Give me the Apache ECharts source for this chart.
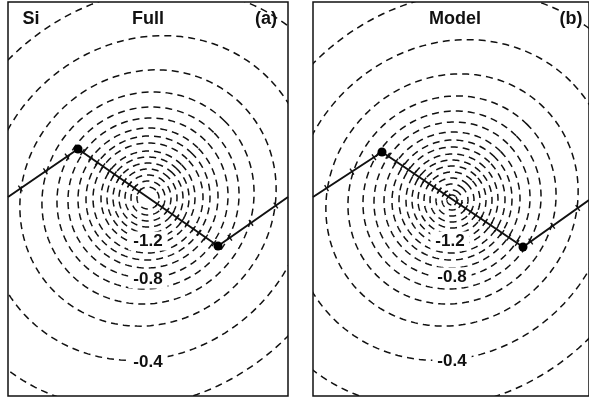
<!DOCTYPE html>
<html><head><meta charset="utf-8">
<script src="https://cdn.jsdelivr.net/npm/echarts@6/dist/echarts.min.js"></script>
<style>html,body{margin:0;padding:0;background:#fff}#c{width:589px;height:400px}</style>
</head><body><div id="c"></div>
<script>
// Contour levels (potential) and their mean radii / elongation
const levels      = [-0.3,-0.4,-0.5,-0.6,-0.7,-0.8,-0.9,-1.0,-1.1,-1.2,-1.3,-1.4,-1.5,-1.6,-1.7,-1.8,-1.9];
const radiusFull  = [209, 162, 128, 106, 91, 80, 70, 62, 55, 47, 41, 35, 29, 23, 17, 11, null];
const radiusModel = [207, 160, 126, 104, 89, 78, 68, 60, 53, 46, 40, 34, 28, 22, 16, 10, 5];
const elongFull   = [1.13,1.10,1.07,1.05,1.04,1.03,1.02,1.02,1.01,1.01,1,1,1,1,1,1,1];
const elongModel  = [1.13,1.10,1.07,1.05,1.04,1.03,1.02,1.02,1.01,1.01,1,1,1,1,1,1,1];
// Labelled contours and label positions
const labelLevels    = [-1.2, -0.8, -0.4];
const labelPosFull   = [[0,-43],[0,-81],[0,-164]];
const labelPosModel  = [[-2,-41],[0,-77],[0,-161]];
// Bond chain and atoms
const bondFull   = [[-140,1],[-70,49],[70,-48],[140,1]];
const atomsFull  = [[-70,49],[70,-48]];
const bondModel  = [[-139,3],[-70,48],[71,-47],[137,0]];
const atomsModel = [[-70,48],[71,-47]];
// Panel texts
const panelTitles = ['Full','Model'];
const panelTags = ['(a)','(b)'];
const elementName = 'Si';

function contourData(radii, elong){
  const d=[];
  for(let i=0;i<levels.length;i++){ if(radii[i]!=null) d.push([radii[i], elong[i], levels[i]]); }
  return d;
}
function tickData(bond, radii){
  const out=[];
  const rs = radii.filter(r=>r!=null);
  for(let s=0;s<bond.length-1;s++){
    const p0=bond[s], p1=bond[s+1];
    const dx=p1[0]-p0[0], dy=p1[1]-p0[1];
    const A=dx*dx+dy*dy, B=2*(p0[0]*dx+p0[1]*dy), C0=p0[0]*p0[0]+p0[1]*p0[1];
    rs.forEach(r=>{
      const C=C0-r*r, disc=B*B-4*A*C;
      if(disc<0) return;
      [(-B-Math.sqrt(disc))/(2*A),(-B+Math.sqrt(disc))/(2*A)].forEach(t=>{
        if(t>0.02&&t<0.98) out.push([p0[0]+t*dx, p0[1]+t*dy, dx, dy]);
      });
    });
  }
  return out;
}
function labelData(pos){ return pos.map((p,i)=>[p[0],p[1],labelLevels[i]]); }

const contourRender = function(params, api){
  const r=api.value(0), e=api.value(1);
  const a=r*Math.sqrt(e), b=r/Math.sqrt(e), th=Math.PI/4;
  const pts=[];
  const n=180;
  for(let i=0;i<=n;i++){
    const t=i/n*2*Math.PI;
    const x=a*Math.cos(t)*Math.cos(th)-b*Math.sin(t)*Math.sin(th);
    const y=a*Math.cos(t)*Math.sin(th)+b*Math.sin(t)*Math.cos(th);
    pts.push(api.coord([x,y]));
  }
  return {type:'polyline', shape:{points:pts}, style:{fill:null, stroke:'#111', lineWidth:1.5, lineDash:[7,5]}};
};
const tickRender = function(params, api){
  const c=api.coord([api.value(0),api.value(1)]);
  const dx=api.value(2), dy=-api.value(3);
  const L=Math.sqrt(dx*dx+dy*dy);
  const nx=-dy/L*3.5, ny=dx/L*3.5;
  return {type:'line', shape:{x1:c[0]-nx,y1:c[1]-ny,x2:c[0]+nx,y2:c[1]+ny}, style:{stroke:'#111', lineWidth:1.4}};
};
const labelRender = function(params, api){
  const c=api.coord([api.value(0),api.value(1)]);
  return {type:'text', x:c[0], y:c[1], style:{text:api.value(2).toFixed(1), font:'bold 17px "Liberation Sans"', fill:'#111', align:'center', verticalAlign:'middle', backgroundColor:'#fff', padding:[1,5]}};
};

function panelSeries(idx, radii, elong, bond, atoms, lpos){
  return [
    {type:'custom', xAxisIndex:idx, yAxisIndex:idx, clip:true, renderItem:contourRender, data:contourData(radii,elong), z:1, silent:true},
    {type:'line', xAxisIndex:idx, yAxisIndex:idx, data:bond, symbol:'none', lineStyle:{color:'#111', width:2}, z:3, silent:true},
    {type:'custom', xAxisIndex:idx, yAxisIndex:idx, clip:true, renderItem:tickRender, data:tickData(bond,radii), z:3, silent:true},
    {type:'scatter', xAxisIndex:idx, yAxisIndex:idx, data:atoms, symbol:'circle', symbolSize:9, itemStyle:{color:'#000', opacity:1}, z:6, silent:true},
    {type:'custom', xAxisIndex:idx, yAxisIndex:idx, renderItem:labelRender, data:labelData(lpos), z:5, silent:true}
  ];
}

const tf='bold 18px "Liberation Sans"';
const chart=echarts.init(document.getElementById('c'),null,{renderer:'canvas'});
chart.setOption({
  animation:false,
  backgroundColor:'#fff',
  grid:[
    {left:8, top:2, width:280, height:394, show:true, borderColor:'#111', borderWidth:1.5},
    {left:313, top:2, width:276, height:394, show:true, borderColor:'#111', borderWidth:1.5}
  ],
  xAxis:[
    {gridIndex:0, type:'value', min:-140, max:140, show:false},
    {gridIndex:1, type:'value', min:-139, max:137, show:false}
  ],
  yAxis:[
    {gridIndex:0, type:'value', min:-198, max:196, show:false},
    {gridIndex:1, type:'value', min:-196, max:198, show:false}
  ],
  graphic:[
    {type:'text', x:31, y:19, style:{text:elementName, font:tf, fill:'#111', align:'center', verticalAlign:'middle'}, z:10},
    {type:'text', x:148, y:19, style:{text:panelTitles[0], font:tf, fill:'#111', align:'center', verticalAlign:'middle'}, z:10},
    {type:'text', x:266, y:19, style:{text:panelTags[0], font:tf, fill:'#111', align:'center', verticalAlign:'middle'}, z:10},
    {type:'text', x:455, y:19, style:{text:panelTitles[1], font:tf, fill:'#111', align:'center', verticalAlign:'middle'}, z:10},
    {type:'text', x:571, y:19, style:{text:panelTags[1], font:tf, fill:'#111', align:'center', verticalAlign:'middle', backgroundColor:'#fff'}, z:10}
  ],
  series:[].concat(
    panelSeries(0, radiusFull, elongFull, bondFull, atomsFull, labelPosFull),
    panelSeries(1, radiusModel, elongModel, bondModel, atomsModel, labelPosModel)
  )
});
</script></body></html>
